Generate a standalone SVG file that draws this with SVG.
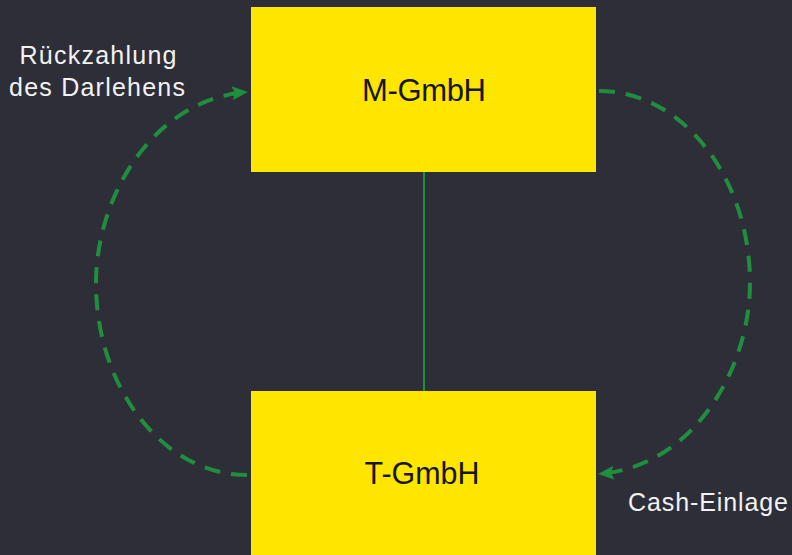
<svg xmlns="http://www.w3.org/2000/svg" width="792" height="555" viewBox="0 0 792 555">
<style>
.box{fill:#ffe600}
.nt{font-family:"Liberation Sans",Arial,sans-serif;font-size:31px;fill:#161616;text-anchor:middle}
.lbl{font-family:"Liberation Sans",Arial,sans-serif;font-size:25px;fill:#f2f2f2;text-anchor:middle}
.flow{fill:none;stroke:#1f8f3e;stroke-width:4;stroke-dasharray:16 11}
</style>
<defs>
<marker id="ah" viewBox="0 0 16 14" refX="15" refY="7" markerWidth="16" markerHeight="14" markerUnits="userSpaceOnUse" orient="auto">
<path d="M0,0 L16,7 L0,14 L3,7 Z" fill="#1f8f3e"/>
</marker>
</defs>
<rect width="792" height="555" fill="#2e2e38"/>
<g id="connectors">
<line x1="424" y1="172" x2="424" y2="391" stroke="#1f8f3e" stroke-width="2"/>
<path class="flow" d="M247,475 C164,475 96,389 96,283 C96,200 150,100 247,92" marker-end="url(#ah)"/>
<path class="flow" d="M599,91 C682,91 750,177 750,283 C750,366 696,466 599,474" marker-end="url(#ah)"/>
</g>
<g id="m-gmbh">
<rect class="box" x="251" y="7" width="345" height="165"/>
<text class="nt" x="424" y="101" textLength="124" lengthAdjust="spacing">M-GmbH</text>
</g>
<g id="t-gmbh">
<rect class="box" x="251" y="391" width="345" height="170"/>
<text class="nt" x="422" y="484" textLength="115" lengthAdjust="spacingAndGlyphs">T-GmbH</text>
</g>
<g id="label-rueckzahlung">
<text class="lbl" x="98" y="64" textLength="157" lengthAdjust="spacing">Rückzahlung</text>
<text class="lbl" x="97" y="96" textLength="176" lengthAdjust="spacing">des Darlehens</text>
</g>
<g id="label-cash">
<text class="lbl" x="708" y="511" textLength="160" lengthAdjust="spacing">Cash-Einlage</text>
</g>
</svg>
